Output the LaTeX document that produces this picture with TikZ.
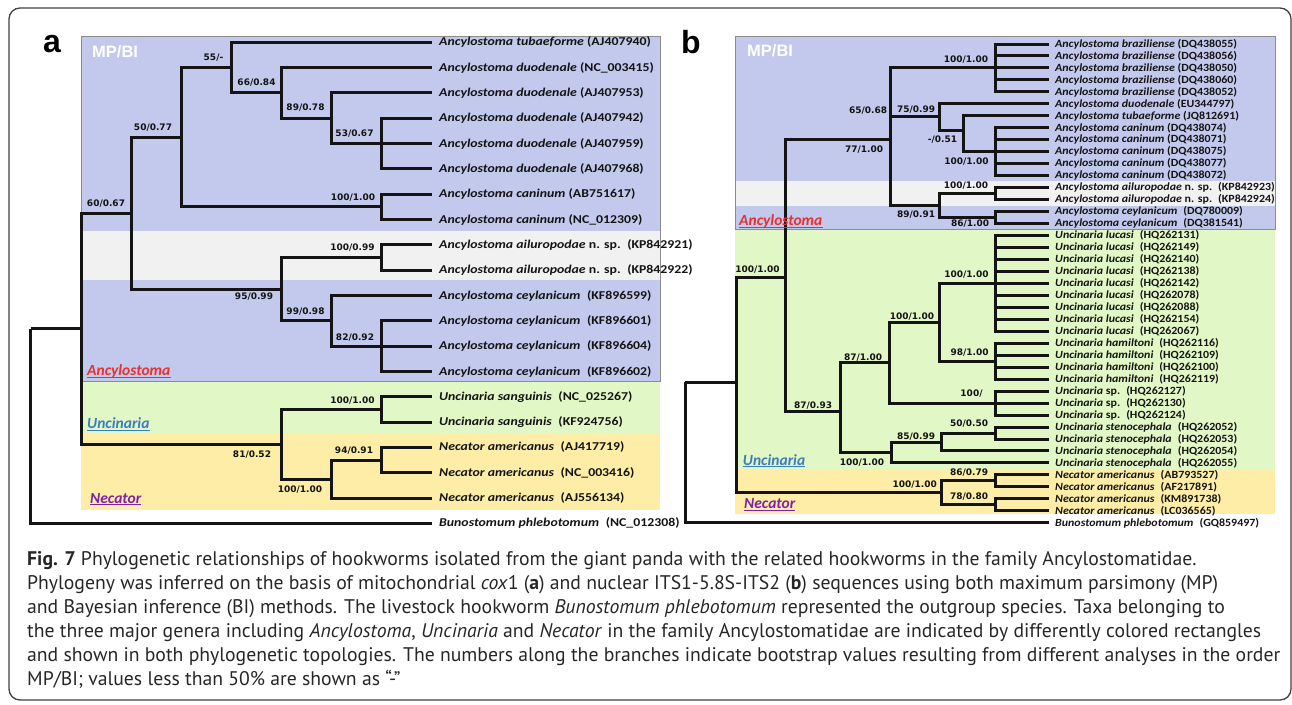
\documentclass[tikz,border=0pt]{standalone}
\usepackage{fontspec}
\usetikzlibrary{calc}
\setmainfont{Carlito}
\newfontfamily\laf[FakeStretch=1.15]{Carlito}
\newfontfamily\lbf[FakeStretch=1.085]{Carlito}
\newfontfamily\bsf{DejaVu Sans}
\newfontfamily\capf{PT Sans}
\newfontfamily\arf{Liberation Sans}
\definecolor{blueA}{RGB}{194,201,236}
\definecolor{grayA}{RGB}{241,241,241}
\definecolor{greenA}{RGB}{226,247,198}
\definecolor{yellowA}{RGB}{253,237,166}
\definecolor{ancred}{RGB}{232,48,47}
\definecolor{uncblue}{RGB}{58,125,192}
\definecolor{necpur}{RGB}{128,32,170}
\definecolor{brc}{RGB}{20,20,20}
\newcommand\tx[2]{\textit{#1} #2}
\newcommand\tw[2]{\textit{#1}\hspace{0.55em}#2}
\tikzset{
  br/.style={line width=3pt, draw=brc, line join=miter},
  la/.style={anchor=west, inner xsep=7pt, inner ysep=0pt, text=brc, font=\laf\bfseries\fontsize{12}{12}\selectfont},
  lb/.style={anchor=west, inner xsep=6pt, inner ysep=0pt, text=brc, font=\lbf\bfseries\fontsize{11}{11}\selectfont},
  bs/.style={inner sep=0pt, text=brc, font=\bsf\bfseries\fontsize{9}{9}\selectfont},
  gen/.style={anchor=base west, inner sep=0pt, font=\bfseries\itshape\fontsize{15.5}{15.5}\selectfont},
  mpbi/.style={anchor=base west, inner sep=0pt, text=white, font=\arf\bfseries\fontsize{16.5}{16.5}\selectfont},
  panel/.style={anchor=base west, inner sep=0pt, font=\arf\bfseries\fontsize{32}{32}\selectfont},
  capl/.style={anchor=base west, inner sep=0pt, text=black!85, font=\capf\fontsize{19.7}{20}\selectfont},
  boxline/.style={draw=black!45, line width=0.8pt},
}
\begin{document}
\begin{tikzpicture}[x=1pt,y=-1pt]
\useasboundingbox (0,0) rectangle (1292,704);
\draw[rounded corners=11pt, line width=1.3pt, draw=black!75] (9,8) rectangle (1291,700);

% ---------------- panel a backgrounds
\fill[blueA] (81,36) rectangle (660,381);
\fill[grayA] (81,231) rectangle (660,280);
\fill[greenA] (81,381) rectangle (660,433);
\fill[yellowA] (81,433) rectangle (660,510);
\draw[boxline] (81,36) rectangle (660,381);
% ---------------- panel b backgrounds
\fill[blueA] (735,36) rectangle (1275,229.3);
\fill[grayA] (735,181) rectangle (1275,205.7);
\fill[greenA] (735,229.3) rectangle (1275,469.3);
\fill[yellowA] (735,469.3) rectangle (1275,514);
\draw[boxline] (735,36) rectangle (1275,229.3);

\node[panel] (pa) at (43,52) {a};
\node[panel] (pb) at (681,53) {b};
\node[mpbi] (mpa) at (92,57) {MP/BI};
\node[mpbi] (mpb) at (747,56.7) {MP/BI};

% ---------------- panel a taxa
\node[la] (a0) at (432,42.3) {\tx{Ancylostoma tubaeforme}{(AJ407940)}};
\node[la] (a1) at (432,67.6) {\tx{Ancylostoma duodenale}{(NC\_003415)}};
\node[la] (a2) at (432,92.9) {\tx{Ancylostoma duodenale}{(AJ407953)}};
\node[la] (a3) at (432,118.3) {\tx{Ancylostoma duodenale}{(AJ407942)}};
\node[la] (a4) at (432,143.6) {\tx{Ancylostoma duodenale}{(AJ407959)}};
\node[la] (a5) at (432,168.9) {\tx{Ancylostoma duodenale}{(AJ407968)}};
\node[la] (a6) at (432,194.2) {\tx{Ancylostoma caninum}{(AB751617)}};
\node[la] (a7) at (432,219.5) {\tx{Ancylostoma caninum}{(NC\_012309)}};
\node[la] (a8) at (432,244.9) {\textit{Ancylostoma ailuropodae} n. sp.\hspace{0.55em}(KP842921)};
\node[la] (a9) at (432,270.2) {\textit{Ancylostoma ailuropodae} n. sp.\hspace{0.55em}(KP842922)};
\node[la] (a10) at (432,295.5) {\tw{Ancylostoma ceylanicum}{(KF896599)}};
\node[la] (a11) at (432,320.8) {\tw{Ancylostoma ceylanicum}{(KF896601)}};
\node[la] (a12) at (432,346.1) {\tw{Ancylostoma ceylanicum}{(KF896604)}};
\node[la] (a13) at (432,371.5) {\tw{Ancylostoma ceylanicum}{(KF896602)}};
\node[la] (a14) at (432,396.8) {\tw{Uncinaria sanguinis}{(NC\_025267)}};
\node[la] (a15) at (432,422.1) {\tw{Uncinaria sanguinis}{(KF924756)}};
\node[la] (a16) at (432,447.4) {\tw{Necator americanus}{(AJ417719)}};
\node[la] (a17) at (432,472.7) {\tw{Necator americanus}{(NC\_003416)}};
\node[la] (a18) at (432,498.0) {\tw{Necator americanus}{(AJ556134)}};
\node[la] (a19) at (432,523.4) {\tw{Bunostomum phlebotomum}{(NC\_012308)}};

% ---------------- panel a internal nodes
\coordinate (aD) at (381,143.6);
\coordinate (aC) at (331,118.25);
\coordinate (aB) at (281,92.9);
\coordinate (aA) at (231,67.6);
\coordinate (aF) at (381,206.85);
\coordinate (aE) at (181,137.2);
\coordinate (aI) at (381,257.55);
\coordinate (aK) at (381,346.1);
\coordinate (aJ) at (331,320.8);
\coordinate (aH) at (281,289.2);
\coordinate (aG) at (131.7,213.2);
\coordinate (aN) at (381,409.45);
\coordinate (aP) at (381,460.05);
\coordinate (aO) at (331,479);
\coordinate (aM) at (281,444.2);
\coordinate (aL) at (81.7,328.7);
\coordinate (aR) at (30.7,328.7);

\draw[br] (aD) |- (a3.west) (aD) |- (a4.west) (aD) |- (a5.west);
\draw[br] (aC) |- (a2.west) (aC) |- (aD);
\draw[br] (aB) |- (a1.west) (aB) |- (aC);
\draw[br] (aA) |- (a0.west) (aA) |- (aB);
\draw[br] (aF) |- (a6.west) (aF) |- (a7.west);
\draw[br] (aE) |- (aA) (aE) |- (aF);
\draw[br] (aI) |- (a8.west) (aI) |- (a9.west);
\draw[br] (aK) |- (a11.west) (aK) |- (a12.west) (aK) |- (a13.west);
\draw[br] (aJ) |- (a10.west) (aJ) |- (aK);
\draw[br] (aH) |- (aI) (aH) |- (aJ);
\draw[br] (aG) |- (aE) (aG) |- (aH);
\draw[br] (aN) |- (a14.west) (aN) |- (a15.west);
\draw[br] (aP) |- (a16.west) (aP) |- (a17.west);
\draw[br] (aO) |- (aP) (aO) |- (a18.west);
\draw[br] (aM) |- (aN) (aM) |- (aO);
\draw[br] (aL) |- (aG) (aL) |- (aM);
\draw[br] (aR) |- (aL) (aR) |- (a19.west);

% ---------------- panel a support values
\node[bs] (sa1) at (213.5,58) {55/-};
\node[bs] (sa2) at (256.5,83) {66/0.84};
\node[bs] (sa3) at (305.5,108) {89/0.78};
\node[bs] (sa4) at (354.5,134) {53/0.67};
\node[bs] (sa5) at (153,128) {50/0.77};
\node[bs] (sa6) at (353,198) {100/1.00};
\node[bs] (sa7) at (106,204) {60/0.67};
\node[bs] (sa8) at (352.5,248) {100/0.99};
\node[bs] (sa9) at (254,297) {95/0.99};
\node[bs] (sa10) at (305.5,312) {99/0.98};
\node[bs] (sa11) at (355,338) {82/0.92};
\node[bs] (sa12) at (352.5,401) {100/1.00};
\node[bs] (sa13) at (252,455) {81/0.52};
\node[bs] (sa14) at (354,450.7) {94/0.91};
\node[bs] (sa15) at (300,490) {100/1.00};

% ---------------- panel a genus labels
\node[gen, text=ancred] (ga1) at (87,375.5) {Ancylostoma};
\draw[ancred, line width=1.1pt] ($(ga1.base west)+(0,1.8)$) -- ($(ga1.base east)+(0,1.8)$);
\node[gen, text=uncblue] (ga2) at (87,428.3) {Uncinaria};
\draw[uncblue, line width=1.1pt] ($(ga2.base west)+(0,1.8)$) -- ($(ga2.base east)+(0,1.8)$);
\node[gen, text=necpur] (ga3) at (90,503) {Necator};
\draw[necpur, line width=1.1pt] ($(ga3.base west)+(0,1.8)$) -- ($(ga3.base east)+(0,1.8)$);

% ---------------- panel b taxa
\node[lb] (b0) at (1049,44.0) {\tx{Ancylostoma braziliense}{(DQ438055)}};
\node[lb] (b1) at (1049,55.97) {\tx{Ancylostoma braziliense}{(DQ438056)}};
\node[lb] (b2) at (1049,67.94) {\tx{Ancylostoma braziliense}{(DQ438050)}};
\node[lb] (b3) at (1049,79.91) {\tx{Ancylostoma braziliense}{(DQ438060)}};
\node[lb] (b4) at (1049,91.88) {\tx{Ancylostoma braziliense}{(DQ438052)}};
\node[lb] (b5) at (1049,103.85) {\tx{Ancylostoma duodenale}{(EU344797)}};
\node[lb] (b6) at (1049,115.82) {\tx{Ancylostoma tubaeforme}{(JQ812691)}};
\node[lb] (b7) at (1049,127.79) {\tx{Ancylostoma caninum}{(DQ438074)}};
\node[lb] (b8) at (1049,139.76) {\tx{Ancylostoma caninum}{(DQ438071)}};
\node[lb] (b9) at (1049,151.73) {\tx{Ancylostoma caninum}{(DQ438075)}};
\node[lb] (b10) at (1049,163.7) {\tx{Ancylostoma caninum}{(DQ438077)}};
\node[lb] (b11) at (1049,175.67) {\tx{Ancylostoma caninum}{(DQ438072)}};
\node[lb] (b12) at (1049,187.64) {\textit{Ancylostoma ailuropodae} n. sp.\hspace{0.55em}(KP842923)};
\node[lb] (b13) at (1049,199.61) {\textit{Ancylostoma ailuropodae} n. sp.\hspace{0.55em}(KP842924)};
\node[lb] (b14) at (1049,211.58) {\tw{Ancylostoma ceylanicum}{(DQ780009)}};
\node[lb] (b15) at (1049,223.55) {\tw{Ancylostoma ceylanicum}{(DQ381541)}};
\node[lb] (b16) at (1049,235.52) {\tw{Uncinaria lucasi}{(HQ262131)}};
\node[lb] (b17) at (1049,247.49) {\tw{Uncinaria lucasi}{(HQ262149)}};
\node[lb] (b18) at (1049,259.46) {\tw{Uncinaria lucasi}{(HQ262140)}};
\node[lb] (b19) at (1049,271.43) {\tw{Uncinaria lucasi}{(HQ262138)}};
\node[lb] (b20) at (1049,283.4) {\tw{Uncinaria lucasi}{(HQ262142)}};
\node[lb] (b21) at (1049,295.37) {\tw{Uncinaria lucasi}{(HQ262078)}};
\node[lb] (b22) at (1049,307.34) {\tw{Uncinaria lucasi}{(HQ262088)}};
\node[lb] (b23) at (1049,319.31) {\tw{Uncinaria lucasi}{(HQ262154)}};
\node[lb] (b24) at (1049,331.28) {\tw{Uncinaria lucasi}{(HQ262067)}};
\node[lb] (b25) at (1049,343.25) {\tw{Uncinaria hamiltoni}{(HQ262116)}};
\node[lb] (b26) at (1049,355.22) {\tw{Uncinaria hamiltoni}{(HQ262109)}};
\node[lb] (b27) at (1049,367.19) {\tw{Uncinaria hamiltoni}{(HQ262100)}};
\node[lb] (b28) at (1049,379.16) {\tw{Uncinaria hamiltoni}{(HQ262119)}};
\node[lb] (b29) at (1049,391.13) {\textit{Uncinaria} sp.\hspace{0.55em}(HQ262127)};
\node[lb] (b30) at (1049,403.1) {\textit{Uncinaria} sp.\hspace{0.55em}(HQ262130)};
\node[lb] (b31) at (1049,415.07) {\textit{Uncinaria} sp.\hspace{0.55em}(HQ262124)};
\node[lb] (b32) at (1049,427.04) {\tw{Uncinaria stenocephala}{(HQ262052)}};
\node[lb] (b33) at (1049,439.01) {\tw{Uncinaria stenocephala}{(HQ262053)}};
\node[lb] (b34) at (1049,450.98) {\tw{Uncinaria stenocephala}{(HQ262054)}};
\node[lb] (b35) at (1049,462.95) {\tw{Uncinaria stenocephala}{(HQ262055)}};
\node[lb] (b36) at (1049,474.92) {\tw{Necator americanus}{(AB793527)}};
\node[lb] (b37) at (1049,486.89) {\tw{Necator americanus}{(AF217891)}};
\node[lb] (b38) at (1049,498.86) {\tw{Necator americanus}{(KM891738)}};
\node[lb] (b39) at (1049,510.83) {\tw{Necator americanus}{(LC036565)}};
\node[lb] (b40) at (1049,522.8) {\tw{Bunostomum phlebotomum}{(GQ859497)}};

% ---------------- panel b internal nodes
\coordinate (bBraz) at (995,67.94);
\coordinate (bCan) at (995,151.73);
\coordinate (bX) at (963.3,130);
\coordinate (b75) at (939.3,116.9);
\coordinate (bAil) at (995,193.6);
\coordinate (bCey) at (995,217.6);
\coordinate (b89) at (939.3,205.6);
\coordinate (bQ) at (890,139);
\coordinate (bLuc) at (995,283.4);
\coordinate (bHam) at (995,361.2);
\coordinate (bLH) at (939.3,322.3);
\coordinate (bSp) at (995,403.1);
\coordinate (b87) at (889.3,362.7);
\coordinate (b50) at (995,433);
\coordinate (b85) at (941,442);
\coordinate (bSt) at (891.7,452.5);
\coordinate (bU) at (840.7,411);
\coordinate (bUA) at (785,277);
\coordinate (bN86) at (995,480.9);
\coordinate (bN78) at (995,504.8);
\coordinate (bN) at (941,492.9);
\coordinate (bIn) at (736.7,382);
\coordinate (bR) at (685,382);

\draw[br] (bBraz) |- (b0.west) (bBraz) |- (b1.west) (bBraz) |- (b2.west) (bBraz) |- (b3.west) (bBraz) |- (b4.west);
\draw[br] (bCan) |- (b7.west) (bCan) |- (b8.west) (bCan) |- (b9.west) (bCan) |- (b10.west) (bCan) |- (b11.west);
\draw[br] (bX) |- (b6.west) (bX) |- (bCan);
\draw[br] (b75) |- (b5.west) (b75) |- (bX);
\draw[br] (bAil) |- (b12.west) (bAil) |- (b13.west);
\draw[br] (bCey) |- (b14.west) (bCey) |- (b15.west);
\draw[br] (b89) |- (bAil) (b89) |- (bCey);
\draw[br] (bQ) |- (bBraz) (bQ) |- (b75) (bQ) |- (b89);
\draw[br] (bLuc) |- (b16.west) (bLuc) |- (b17.west) (bLuc) |- (b18.west) (bLuc) |- (b19.west) (bLuc) |- (b20.west) (bLuc) |- (b21.west) (bLuc) |- (b22.west) (bLuc) |- (b23.west) (bLuc) |- (b24.west);
\draw[br] (bHam) |- (b25.west) (bHam) |- (b26.west) (bHam) |- (b27.west) (bHam) |- (b28.west);
\draw[br] (bLH) |- (bLuc) (bLH) |- (bHam);
\draw[br] (bSp) |- (b29.west) (bSp) |- (b30.west) (bSp) |- (b31.west);
\draw[br] (b87) |- (bLH) (b87) |- (bSp);
\draw[br] (b50) |- (b32.west) (b50) |- (b33.west);
\draw[br] (b85) |- (b50) (b85) |- (b34.west);
\draw[br] (bSt) |- (b85) (bSt) |- (b35.west);
\draw[br] (bU) |- (b87) (bU) |- (bSt);
\draw[br] (bUA) |- (bQ) (bUA) |- (bU);
\draw[br] (bN86) |- (b36.west) (bN86) |- (b37.west);
\draw[br] (bN78) |- (b38.west) (bN78) |- (b39.west);
\draw[br] (bN) |- (bN86) (bN) |- (bN78);
\draw[br] (bIn) |- (bUA) (bIn) |- (bN);
\draw[br] (bR) |- (bIn) (bR) |- (b40.west);

% ---------------- panel b support values
\node[bs] (sb1) at (966,59.3) {100/1.00};
\node[bs] (sb2) at (868,110.7) {65/0.68};
\node[bs] (sb3) at (916,109.3) {75/0.99};
\node[bs] (sb4) at (864,149.3) {77/1.00};
\node[bs] (sb5) at (942.5,140) {-/0.51};
\node[bs] (sb6) at (966.5,161.3) {100/1.00};
\node[bs] (sb7) at (966,186) {100/1.00};
\node[bs] (sb8) at (916,214.3) {89/0.91};
\node[bs] (sb9) at (970,224) {86/1.00};
\node[bs] (sb10) at (757.5,269.3) {100/1.00};
\node[bs] (sb11) at (966.5,274.3) {100/1.00};
\node[bs] (sb12) at (912,316.7) {100/1.00};
\node[bs] (sb13) at (969.5,352.7) {98/1.00};
\node[bs] (sb14) at (863,357.7) {87/1.00};
\node[bs] (sb15) at (971.5,394) {100/};
\node[bs] (sb16) at (813,405.7) {87/0.93};
\node[bs] (sb17) at (969,423.3) {50/0.50};
\node[bs] (sb18) at (916,436.7) {85/0.99};
\node[bs] (sb19) at (862,462.3) {100/1.00};
\node[bs] (sb20) at (969,472.7) {86/0.79};
\node[bs] (sb21) at (914.7,485) {100/1.00};
\node[bs] (sb22) at (969,496.7) {78/0.80};

% ---------------- panel b genus labels
\node[gen, text=ancred] (gb1) at (739,225.7) {Ancylostoma};
\draw[ancred, line width=1.1pt] ($(gb1.base west)+(0,1.8)$) -- ($(gb1.base east)+(0,1.8)$);
\node[gen, text=uncblue] (gb2) at (742.7,465) {Uncinaria};
\draw[uncblue, line width=1.1pt] ($(gb2.base west)+(0,1.8)$) -- ($(gb2.base east)+(0,1.8)$);
\node[gen, text=necpur] (gb3) at (744,508.3) {Necator};
\draw[necpur, line width=1.1pt] ($(gb3.base west)+(0,1.8)$) -- ($(gb3.base east)+(0,1.8)$);

% ---------------- caption
\node[capl] (c1) at (27,565) {\textbf{Fig. 7} Phylogenetic relationships of hookworms isolated from the giant panda with the related hookworms in the family Ancylostomatidae.};
\node[capl] (c2) at (27,589) {Phylogeny was inferred on the basis of mitochondrial \textit{cox}1 (\textbf{a}) and nuclear ITS1-5.8S-ITS2 (\textbf{b}) sequences using both maximum parsimony (MP)};
\node[capl] (c3) at (27,613) {and Bayesian inference (BI) methods. The livestock hookworm \textit{Bunostomum phlebotomum} represented the outgroup species. Taxa belonging to};
\node[capl] (c4) at (27,637) {the three major genera including \textit{Ancylostoma}, \textit{Uncinaria} and \textit{Necator} in the family Ancylostomatidae are indicated by differently colored rectangles};
\node[capl] (c5) at (27,661) {and shown in both phylogenetic topologies. The numbers along the branches indicate bootstrap values resulting from different analyses in the order};
\node[capl] (c6) at (27,685) {MP/BI; values less than 50\% are shown as “-”};
\end{tikzpicture}
\end{document}
